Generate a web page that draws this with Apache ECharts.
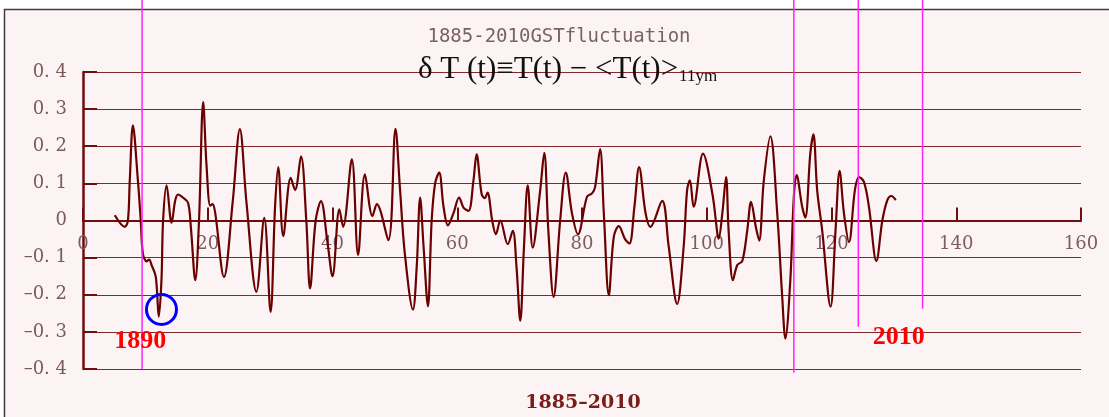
<!DOCTYPE html>
<html><head><meta charset="utf-8">
<script src="https://cdn.jsdelivr.net/npm/echarts@6/dist/echarts.min.js"></script>
<style>html,body{margin:0;padding:0;background:#fff}#c{width:1109px;height:417px}</style>
</head><body><div id="c"></div>
<script>
// x = years since 1880, y = GST fluctuation (°C)
const xValues = [5.1,6.7,7.2,7.5,8.0,8.8,9.26,9.6,10.2,10.6,11.0,11.67,12.15,12.58,12.84,13.4,14.2,14.8,15.25,16.0,16.85,17.3,18.0,18.6,19.27,19.8,20.4,20.77,21.2,22.6,24.0,25.15,26.2,27.8,29.06,30.07,30.8,31.3,32.1,33.3,34.0,34.95,35.8,36.4,37.3,38.15,39.2,40.0,41.1,41.7,43.1,44.1,45.2,46.4,47.1,48.95,50.1,50.8,51.6,52.9,53.5,54.05,54.6,55.3,55.9,56.45,57.1,57.8,58.5,59.4,60.3,61.0,61.8,62.6,63.1,63.9,64.4,64.85,65.6,66.2,66.9,68.1,68.9,69.5,70.1,70.7,71.3,72.1,73.3,73.95,74.6,75.45,76.5,77.4,78.4,79.35,80.8,81.6,82.1,82.9,83.5,84.3,85.1,85.9,86.9,87.6,88.4,89.15,90.2,90.96,92.85,93.9,95.25,96.3,96.85,97.3,97.9,99.4,100.9,101.7,101.9,102.5,103.1,103.5,104.2,104.9,105.7,106.5,107.1,107.9,108.4,109.15,110.2,111.3,112.1,112.6,113.4,113.96,114.4,115.3,115.8,116.6,117.1,117.7,118.5,119.85,120.65,121.3,122.0,122.8,123.75,124.4,125.2,126.0,127.2,128.15,128.95,129.6,130.3];
const yValues = [0.014,-0.017,0.0,0.108,0.256,0.108,0.0,-0.089,-0.11,-0.105,-0.12,-0.152,-0.259,-0.16,0.0,0.095,-0.006,0.055,0.07,0.062,0.047,-0.02,-0.161,0.0,0.319,0.15,0.04,0.044,0.02,-0.152,0.05,0.246,0.05,-0.192,0.007,-0.246,0.04,0.144,-0.042,0.115,0.082,0.173,0.0,-0.183,0.0,0.052,-0.06,-0.15,0.03,-0.017,0.165,-0.093,0.124,0.012,0.044,-0.053,0.247,0.09,-0.09,-0.24,-0.125,0.062,-0.07,-0.231,0.0,0.1,0.129,0.037,-0.013,0.02,0.062,0.035,0.026,0.108,0.178,0.072,0.06,0.075,0.0,-0.037,0.0,-0.064,-0.028,-0.125,-0.27,-0.07,0.095,-0.073,0.082,0.182,-0.026,-0.206,0.0,0.129,0.019,-0.037,0.064,0.073,0.09,0.192,0.019,-0.201,-0.044,-0.015,-0.05,-0.062,0.037,0.144,0.019,-0.017,0.053,-0.07,-0.225,-0.07,0.082,0.108,0.037,0.18,0.072,-0.035,-0.049,0.02,0.117,-0.026,-0.161,-0.12,-0.109,-0.026,0.05,-0.02,-0.054,0.108,0.227,0.019,-0.206,-0.318,-0.16,0.064,0.122,0.037,0.008,0.18,0.232,0.082,-0.026,-0.232,-0.026,0.134,0.019,-0.058,0.082,0.117,0.104,0.037,-0.109,0.0,0.055,0.066,0.055];
const xTickLabels = ['0','20','40','60','80','100','120','140','160'];
const yTickLabels = ['–0. 4','–0. 3','–0. 2','–0. 1','0','0. 1','0. 2','0. 3','0. 4'];
const chartTitle = '1885-2010GSTfluctuation';
const formulaMain = 'δ T (t)≡T(t) − <T(t)>';
const formulaSub = '11ym';
const axisName = '1885–2010';
// annotations (data coordinates)
const markerLineXs = [9.47, 113.96, 124.3, 134.6];
const markerLineBottoms = [-0.4, -0.41, -0.286, -0.238];
const yearLabels = [{text:'1890', x:9.18, y:-0.325}, {text:'2010', x:130.8, y:-0.314}];
const circleMark = {x:12.58, y:-0.2395};

const data = xValues.map((x, i) => [x, yValues[i]]);
const chart = echarts.init(document.getElementById('c'), null, {renderer:'canvas'});
const axisRed = '#6e0d0d';
chart.setOption({
  animation: false,
  backgroundColor: '#ffffff',
  title: {
    text: chartTitle, left: 554, top: 23, textAlign: 'center',
    textStyle: {fontFamily: 'DejaVu Sans Mono', fontSize: 19, fontWeight: 'normal', color: '#7a6262'}
  },
  grid: {left: 83, right: 28, top: 72, bottom: 48, containLabel: false},
  xAxis: {
    type: 'value', min: 0, max: 160, interval: 20,
    axisLine: {onZero: false, lineStyle: {color: axisRed, width: 2}},
    axisTick: {inside: true, length: 13, lineStyle: {color: axisRed, width: 2}},
    axisLabel: {margin: 15, fontFamily: 'DejaVu Serif', fontSize: 18, color: '#7d5c60',
      showMinLabel: true, showMaxLabel: true,
      formatter: v => xTickLabels[Math.round(v / 20)]},
    splitLine: {show: false}
  },
  yAxis: {
    type: 'value', min: -0.4, max: 0.4, interval: 0.1,
    axisLine: {show: true, onZero: false, lineStyle: {color: axisRed, width: 2.5}},
    axisTick: {show: true, inside: true, length: 14, lineStyle: {color: axisRed, width: 2}},
    axisLabel: {margin: 16, fontFamily: 'DejaVu Serif', fontSize: 18, color: '#7a5a5a',
      formatter: v => yTickLabels[Math.round(v * 10) + 4]},
    splitLine: {show: true, lineStyle: {color: '#7f2a2a', width: 1.2}}
  },
  series: [{
    type: 'line', data: data, smooth: 0.35, showSymbol: false, symbol: 'none',
    lineStyle: {color: '#6a0000', width: 2.2}, z: 5
  }]
});

function px(x, y) { return chart.convertToPixel({gridIndex: 0}, [x, y]); }
// move the x axis (line, ticks, labels) up to y = 0
const zeroY = chart.convertToPixel({yAxisIndex: 0}, 0);
const bottomY = chart.convertToPixel({yAxisIndex: 0}, -0.4);
chart.setOption({xAxis: {offset: -(bottomY - zeroY)}});

const measure = document.createElement('canvas').getContext('2d');
measure.font = '31px "Liberation Serif"';
const mainW = measure.measureText(formulaMain).width;
const formulaLeft = 418;

const graphics = [];
graphics.push({type: 'rect', z: -10, silent: true,
  shape: {x: 4.5, y: 9.5, width: 1200, height: 500},
  style: {fill: '#fcf4f4', stroke: '#3c3c3c', lineWidth: 1.5}});
markerLineXs.forEach((x, i) => {
  const b = px(x, markerLineBottoms[i]);
  graphics.push({type: 'line', z: 100, silent: true,
    shape: {x1: b[0], y1: 0, x2: b[0], y2: b[1]},
    style: {stroke: '#ff22ff', lineWidth: 1.5}});
});
yearLabels.forEach(l => {
  const p = px(l.x, l.y);
  graphics.push({type: 'text', z: 101, silent: true, x: p[0], y: p[1],
    style: {text: l.text, fill: '#ff0000', font: 'bold 26px "Liberation Serif"', align: 'center', verticalAlign: 'middle'}});
});
const c = px(circleMark.x, circleMark.y);
graphics.push({type: 'circle', z: 101, silent: true, shape: {cx: c[0], cy: c[1], r: 15},
  style: {fill: 'none', stroke: '#0000ff', lineWidth: 3}});
graphics.push({type: 'text', z: 101, silent: true, x: formulaLeft, y: 70,
  style: {text: formulaMain, fill: '#111', font: '31px "Liberation Serif"', align: 'left', verticalAlign: 'middle'}});
graphics.push({type: 'text', z: 101, silent: true, x: formulaLeft + mainW + 1, y: 77,
  style: {text: formulaSub, fill: '#111', font: '17px "Liberation Serif"', align: 'left', verticalAlign: 'middle'}});
graphics.push({type: 'text', z: 101, silent: true, x: 583, y: 403,
  style: {text: axisName, fill: '#7a1c1c', font: 'bold 19px "DejaVu Serif"', align: 'center', verticalAlign: 'middle'}});
chart.setOption({graphic: graphics});
</script>
</body></html>
